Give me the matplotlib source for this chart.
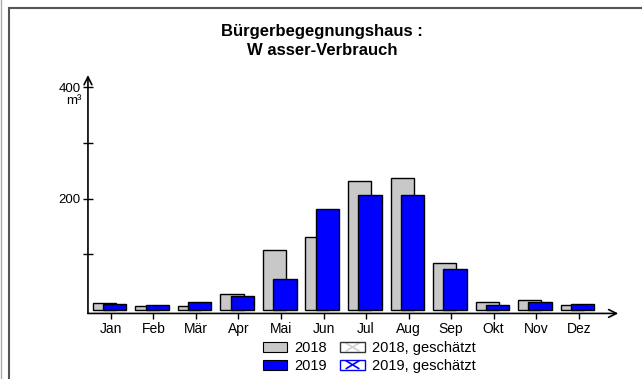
import numpy as np
import matplotlib.pyplot as plt
from matplotlib.patches import Patch, Rectangle
from matplotlib.lines import Line2D
from matplotlib.legend_handler import HandlerPatch

plt.rcParams["font.family"] = ["Liberation Sans", "DejaVu Sans"]

# Monatswerte Wasserverbrauch (m³)
MONATE = ["Jan", "Feb", "Mär", "Apr", "Mai", "Jun",
          "Jul", "Aug", "Sep", "Okt", "Nov", "Dez"]
WERTE_2018 = [12, 8, 8, 29, 108, 132, 231, 238, 84, 14, 18, 9]
WERTE_2019 = [11, 10, 15, 25, 56, 182, 206, 207, 73, 10, 15, 11]

Y_TICKS = [100, 200, 300, 400]
Y_LABELS = ["", "200", "", "400"]

GRAU = "#c8c8c8"
BLAU = "#0000ff"


class KreuzHandler(HandlerPatch):
    """Legendensymbol für geschätzte Werte: Kasten mit Kreuz."""

    def __init__(self, kreuzfarbe, **kw):
        super().__init__(**kw)
        self.kreuzfarbe = kreuzfarbe

    def create_artists(self, legend, orig_handle, xdescent, ydescent,
                       width, height, fontsize, trans):
        rahmen = orig_handle.get_edgecolor()
        x0, y0 = -xdescent, -ydescent
        fuell = Rectangle((x0, y0), width, height, facecolor="white",
                          edgecolor="none", transform=trans)
        cx = x0 + width / 2
        a, b = cx - height * 0.6, cx + height * 0.6
        l1 = Line2D([a, b], [y0 + 1, y0 + height - 1], color=self.kreuzfarbe,
                    lw=1.2, transform=trans)
        l2 = Line2D([a, b], [y0 + height - 1, y0 + 1], color=self.kreuzfarbe,
                    lw=1.2, transform=trans)
        rand = Rectangle((x0, y0), width, height, facecolor="none",
                         edgecolor=rahmen, lw=1.0, transform=trans)
        return [fuell, l1, l2, rand]


fig = plt.figure(figsize=(6.42, 3.79), dpi=100)
ax = fig.add_axes([0.137, 0.173, 0.826, 0.629])

x = np.arange(len(MONATE))
breite = 0.55
ax.bar(x - 0.15, WERTE_2018, width=breite, color=GRAU,
       edgecolor="black", linewidth=1.0, zorder=2)
ax.bar(x + 0.09, WERTE_2019, width=breite, color=BLAU,
       edgecolor="black", linewidth=1.0, zorder=3)

y_min, y_max = -6, 422
ax.set_xlim(-0.54, 11.93)
ax.set_ylim(y_min, y_max)

# Achsen als Pfeile
for s in ax.spines.values():
    s.set_visible(False)
pfeil = dict(arrowstyle="->", lw=1.2, color="black",
             mutation_scale=14, shrinkA=0, shrinkB=0)
ax.annotate("", xy=(0, 1), xycoords="axes fraction",
            xytext=(0, 0), textcoords="axes fraction", arrowprops=pfeil)
ax.annotate("", xy=(1, 0), xycoords="axes fraction",
            xytext=(0, 0), textcoords="axes fraction", arrowprops=pfeil)

ax.set_xticks(x)
ax.set_xticklabels(MONATE, fontsize=10)
ax.tick_params(axis="x", direction="out", length=4, width=1, pad=2)
ax.set_yticks(Y_TICKS)
ax.set_yticklabels(Y_LABELS, fontsize=9.5)
ax.tick_params(axis="y", direction="inout", length=7, width=1, pad=2)

ax.text(-0.012, 400 - 24, "m³", transform=ax.get_yaxis_transform(),
        ha="right", va="center", fontsize=9.5)

fig.text(0.502, 0.892, "Bürgerbegegnungshaus :\nW asser-Verbrauch",
         ha="center", va="center", fontsize=12, fontweight="bold",
         linespacing=1.3)

g2018 = Patch(facecolor=GRAU, edgecolor="black", lw=0.8)
g2019 = Patch(facecolor=BLAU, edgecolor="black", lw=0.8)
g2018s = Patch(facecolor="white", edgecolor="#333333")
g2019s = Patch(facecolor="white", edgecolor=BLAU)
griffe = [g2018, g2019, g2018s, g2019s]
beschriftung = ["2018", "2019", "2018, geschätzt", "2019, geschätzt"]
fig.legend(griffe, beschriftung, ncol=2, loc="center",
           bbox_to_anchor=(0.575, 0.058), frameon=False, fontsize=10.5,
           handlelength=1.7, handleheight=0.7, handletextpad=0.48,
           columnspacing=0.9, labelspacing=0.25, borderpad=0,
           handler_map={g2018s: KreuzHandler("#d0d0d0"),
                        g2019s: KreuzHandler(BLAU)})

# Rahmen der Grafik
fig.add_artist(Line2D([0.014, 0.014], [0, 0.979], color="#555555", lw=1.5))
fig.add_artist(Line2D([0.014, 1.0], [0.979, 0.979], color="#555555", lw=1.5))
fig.add_artist(Line2D([0.001, 0.001], [0, 1], color="#aaaaaa", lw=1.0))

fig.savefig("out.png", dpi=100)
